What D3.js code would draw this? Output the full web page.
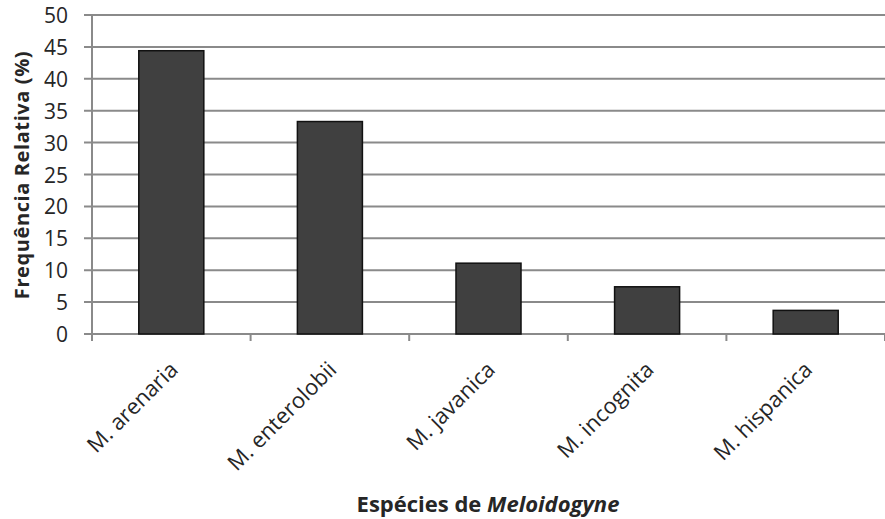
<!DOCTYPE html>
<html>
<head>
<meta charset="utf-8">
<script src="https://cdn.jsdelivr.net/npm/d3@7"></script>
<style>
  html, body { margin: 0; padding: 0; background: #fff; }
  svg { display: block; }
  text { font-family: "Open Sans", Lato, sans-serif; fill: #262626; }
</style>
</head>
<body>
<svg id="chart" width="885" height="519"></svg>
<script>
// Relative frequency (%) of Meloidogyne species
const species = ["M. arenaria", "M. enterolobii", "M. javanica", "M. incognita", "M. hispanica"];
const frequency = [44.4, 33.3, 11.1, 7.4, 3.7];
const yTicks = [0, 5, 10, 15, 20, 25, 30, 35, 40, 45, 50];

const svg = d3.select("#chart");
const margin = { left: 92, right: 0, top: 15, bottom: 185 };
const width = 885, height = 519;
const plotBottom = 334;

const x = d3.scaleBand()
  .domain(species)
  .range([margin.left, width])
  .paddingInner(0.59)
  .paddingOuter(0.295);

const xBand = d3.scaleBand().domain(species).range([margin.left, width]);

const y = d3.scaleLinear()
  .domain([0, 50])
  .range([plotBottom, margin.top]);

// horizontal gridlines with small outer ticks on the left
const grid = svg.append("g");
grid.selectAll("line")
  .data(yTicks)
  .join("line")
  .attr("x1", margin.left - 8)
  .attr("x2", width)
  .attr("y1", d => y(d))
  .attr("y2", d => y(d))
  .attr("stroke", "#8a8a8a")
  .attr("stroke-width", 2);

// y axis line
svg.append("line")
  .attr("x1", margin.left).attr("x2", margin.left)
  .attr("y1", margin.top).attr("y2", plotBottom + 7)
  .attr("stroke", "#8a8a8a").attr("stroke-width", 2);

// category separators on the x axis
const bounds = species.map(s => xBand(s)).concat([width]);
svg.append("g").selectAll("line")
  .data(bounds)
  .join("line")
  .attr("x1", d => d).attr("x2", d => d)
  .attr("y1", plotBottom).attr("y2", plotBottom + 7)
  .attr("stroke", "#8a8a8a").attr("stroke-width", 2);

// y tick labels
const yAxis = d3.axisLeft(y).tickValues(yTicks).tickSize(0).tickPadding(0);
const yg = svg.append("g").attr("transform", `translate(${margin.left - 24},0)`).call(yAxis);
yg.select(".domain").remove();
yg.selectAll("text")
  .attr("font-size", 21)
  .attr("font-family", "'Open Sans', Lato, sans-serif")
  .attr("fill", "#2a2a2a")
  .attr("dy", "0.36em");

// bars
svg.append("g").selectAll("rect")
  .data(frequency)
  .join("rect")
  .attr("x", (d, i) => x(species[i]))
  .attr("width", x.bandwidth())
  .attr("y", d => y(d))
  .attr("height", d => plotBottom - y(d))
  .attr("fill", "#404040")
  .attr("stroke", "#111")
  .attr("stroke-width", 1.5);

// rotated category labels
svg.append("g").selectAll("text")
  .data(species)
  .join("text")
  .attr("transform", d => `translate(${xBand(d) + xBand.bandwidth() / 2 + 8},${plotBottom + 37}) rotate(-45)`)
  .attr("text-anchor", "end")
  .attr("font-size", 22)
  .attr("fill", "#2a2a2a")
  .text(d => d);

// y axis title
svg.append("text")
  .attr("transform", `translate(29,175) rotate(-90)`)
  .attr("text-anchor", "middle")
  .attr("font-size", 20)
  .attr("letter-spacing", 0.6)
  .attr("font-weight", "bold")
  .attr("fill", "#111")
  .text("Frequência Relativa (%)");

// x axis title
const xt = svg.append("text")
  .attr("x", 488)
  .attr("y", 512)
  .attr("text-anchor", "middle")
  .attr("font-size", 22)
  .attr("font-weight", "bold")
  .attr("fill", "#111");
xt.append("tspan").text("Espécies de ");
xt.append("tspan").attr("font-style", "italic").text("Meloidogyne");
</script>
</body>
</html>
